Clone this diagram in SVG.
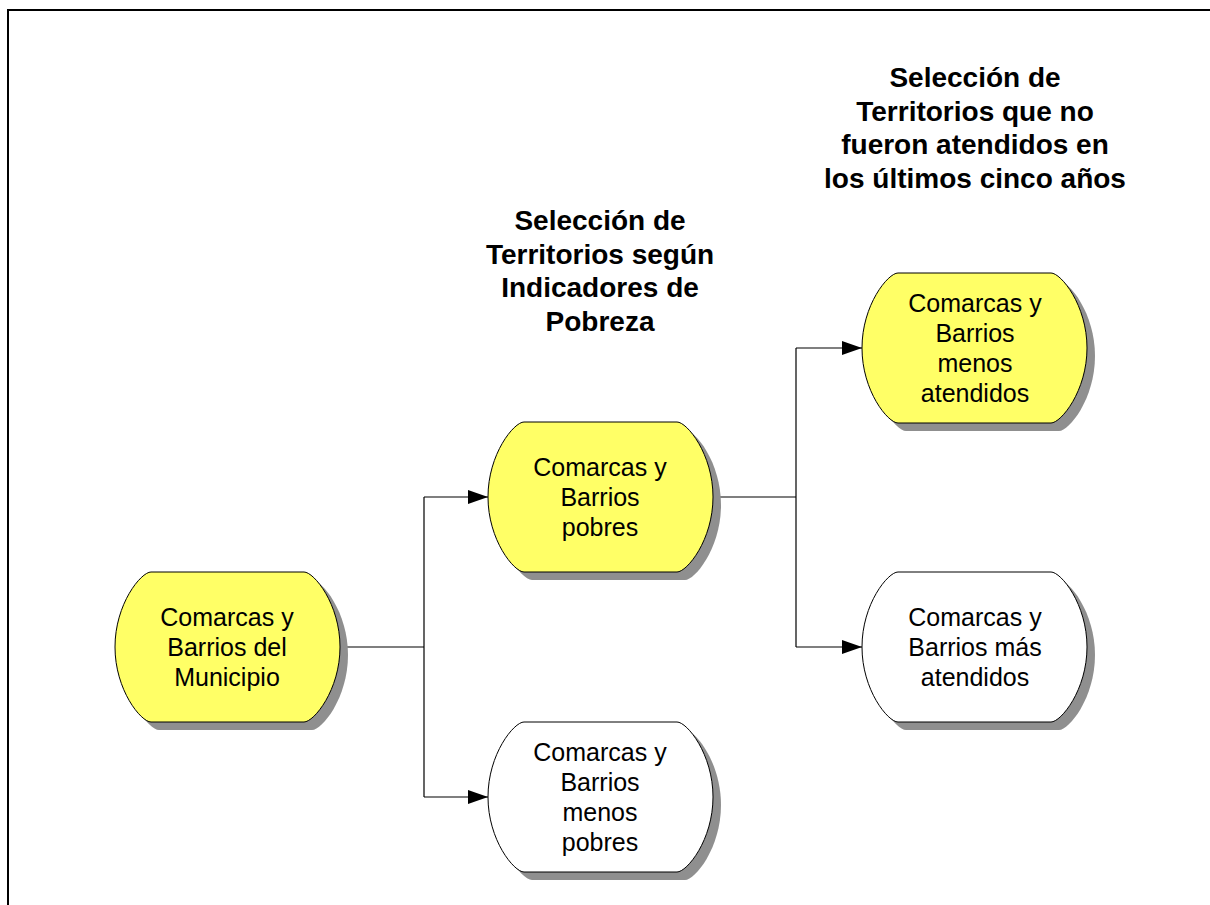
<svg xmlns="http://www.w3.org/2000/svg" xmlns:xlink="http://www.w3.org/1999/xlink" width="1210" height="905" viewBox="0 0 1210 905">
<style>
.node-text{font-family:"Liberation Sans",Arial,sans-serif;font-size:25px;fill:#000;text-anchor:middle}
.title{font-family:"Liberation Sans",Arial,sans-serif;font-size:28px;font-weight:bold;fill:#000;text-anchor:middle}
.shadow{fill:#8f8f8f;stroke:none}
.yellow{fill:#ffff66;stroke:#000;stroke-width:1}
.white{fill:#fff;stroke:#000;stroke-width:1}
.conn{fill:none;stroke:#000;stroke-width:1.2}
</style>
<defs>
<path id="shape" d="M36,0 H189 C199,0 225,32 225,75 C225,118 199,150 189,150 H36 C26,150 0,118 0,75 C0,32 26,0 36,0 Z"/>
<marker id="arrow" markerWidth="20" markerHeight="14" refX="20" refY="7" orient="auto" markerUnits="userSpaceOnUse">
<path d="M0,0 L20,7 L0,14 Z" fill="#000"/>
</marker>
</defs>
<rect width="1210" height="905" fill="#fff"/>
<path d="M8,905 V10 H1210" fill="none" stroke="#000" stroke-width="2"/>

<g id="titles">
<text class="title" x="600" y="230">Selección de</text>
<text class="title" x="600" y="264">Territorios según</text>
<text class="title" x="600" y="297">Indicadores de</text>
<text class="title" x="600" y="331">Pobreza</text>
<text class="title" x="975" y="87">Selección de</text>
<text class="title" x="975" y="121">Territorios que no</text>
<text class="title" x="975" y="154">fueron atendidos en</text>
<text class="title" x="975" y="188">los últimos cinco años</text>
</g>

<g id="connectors">
<path class="conn" d="M340,647 H424 M424,497 V797"/>
<path class="conn" d="M424,497 H488" marker-end="url(#arrow)"/>
<path class="conn" d="M424,797 H488" marker-end="url(#arrow)"/>
<path class="conn" d="M713,497 H796 M796,348 V647"/>
<path class="conn" d="M796,348 H862" marker-end="url(#arrow)"/>
<path class="conn" d="M796,647 H862" marker-end="url(#arrow)"/>
</g>

<g id="node-municipio">
<use xlink:href="#shape" href="#shape" class="shadow" transform="translate(123,580)"/>
<use xlink:href="#shape" href="#shape" class="yellow" transform="translate(115,572)"/>
<text class="node-text" x="227" y="626">Comarcas y</text>
<text class="node-text" x="227" y="656">Barrios del</text>
<text class="node-text" x="227" y="686">Municipio</text>
</g>

<g id="node-pobres">
<use xlink:href="#shape" href="#shape" class="shadow" transform="translate(496,430)"/>
<use xlink:href="#shape" href="#shape" class="yellow" transform="translate(488,422)"/>
<text class="node-text" x="600" y="476">Comarcas y</text>
<text class="node-text" x="600" y="506">Barrios</text>
<text class="node-text" x="600" y="536">pobres</text>
</g>

<g id="node-menos-pobres">
<use xlink:href="#shape" href="#shape" class="shadow" transform="translate(496,730)"/>
<use xlink:href="#shape" href="#shape" class="white" transform="translate(488,722)"/>
<text class="node-text" x="600" y="761">Comarcas y</text>
<text class="node-text" x="600" y="791">Barrios</text>
<text class="node-text" x="600" y="821">menos</text>
<text class="node-text" x="600" y="851">pobres</text>
</g>

<g id="node-menos-atendidos">
<use xlink:href="#shape" href="#shape" class="shadow" transform="translate(870,281)"/>
<use xlink:href="#shape" href="#shape" class="yellow" transform="translate(862,273)"/>
<text class="node-text" x="975" y="312">Comarcas y</text>
<text class="node-text" x="975" y="342">Barrios</text>
<text class="node-text" x="975" y="372">menos</text>
<text class="node-text" x="975" y="402">atendidos</text>
</g>

<g id="node-mas-atendidos">
<use xlink:href="#shape" href="#shape" class="shadow" transform="translate(870,580)"/>
<use xlink:href="#shape" href="#shape" class="white" transform="translate(862,572)"/>
<text class="node-text" x="975" y="626">Comarcas y</text>
<text class="node-text" x="975" y="656">Barrios más</text>
<text class="node-text" x="975" y="686">atendidos</text>
</g>
</svg>
